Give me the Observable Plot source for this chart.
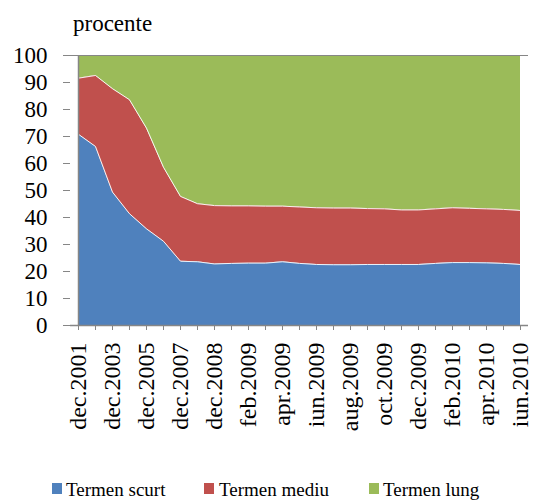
<!DOCTYPE html>
<html>
<head>
<meta charset="utf-8">
<script src="https://cdn.jsdelivr.net/npm/d3@7"></script>
<script src="https://cdn.jsdelivr.net/npm/@observablehq/plot@0.6"></script>
<style>
  html, body { margin: 0; padding: 0; background: #fff; overflow: hidden; }
  #wrap { position: relative; width: 535px; height: 502px; font-family: 'Liberation Serif', serif; color: #000; }
  #unit { position: absolute; left: 73px; top: 11px; font-size: 23px; line-height: 26px; }
  #chart { position: absolute; left: 0; top: 0; }
  .leg { position: absolute; top: 478px; font-size: 19px; line-height: 24px; white-space: nowrap; }
  .sw { position: absolute; top: 483px; width: 10px; height: 11px; }
</style>
</head>
<body>
<div id="wrap">
  <div id="chart"></div>
  <div id="unit">procente</div>
  <div id="legend"></div>
</div>
<script>
const categories = ["dec.2001","dec.2002","dec.2003","dec.2004","dec.2005","dec.2006","dec.2007","iun.2008","dec.2008","ian.2009","feb.2009","mar.2009","apr.2009","mai.2009","iun.2009","iul.2009","aug.2009","sep.2009","oct.2009","noi.2009","dec.2009","ian.2010","feb.2010","mar.2010","apr.2010","mai.2010","iun.2010"];
const seriesNames = ["Termen scurt", "Termen mediu", "Termen lung"];
const seriesColors = ["#4F81BD", "#C0504D", "#9BBB59"];
const termenScurt = [70.8, 66.3, 49.4, 41.4, 35.8, 31.2, 23.8, 23.6, 22.8, 23.0, 23.1, 23.1, 23.6, 23.0, 22.6, 22.5, 22.5, 22.6, 22.6, 22.6, 22.6, 23.0, 23.3, 23.3, 23.2, 23.0, 22.6];
const termenMediu = [20.8, 26.3, 38.3, 42.2, 37.3, 27.4, 24.0, 21.5, 21.6, 21.3, 21.2, 21.1, 20.6, 20.9, 21.0, 21.0, 21.0, 20.7, 20.6, 20.2, 20.2, 20.2, 20.3, 20.1, 20.0, 20.0, 20.0];
const termenLung = [8.4, 7.4, 12.3, 16.4, 26.9, 41.4, 52.2, 54.9, 55.6, 55.7, 55.7, 55.8, 55.8, 56.1, 56.4, 56.5, 56.5, 56.7, 56.8, 57.2, 57.2, 56.8, 56.4, 56.6, 56.8, 57.0, 57.4];
const yTicks = [0, 10, 20, 30, 40, 50, 60, 70, 80, 90, 100];

const seriesValues = [termenScurt, termenMediu, termenLung];
const data = [];
seriesNames.forEach((s, k) => categories.forEach((c, i) => data.push({cat: c, series: s, value: seriesValues[k][i]})));

// boundary lines (white separators) from cumulative sums
const boundary = [];
categories.forEach((c, i) => {
  boundary.push({cat: c, b: "b1", v: termenScurt[i]});
  boundary.push({cat: c, b: "b2", v: termenScurt[i] + termenMediu[i]});
});

const gray = "#868686";
const fontStack = "'Liberation Serif', serif";
const chart = Plot.plot({
  width: 535,
  height: 450,
  marginLeft: 70,
  marginRight: 7,
  marginTop: 55,
  marginBottom: 125,
  style: {fontFamily: fontStack, fontSize: "23px", color: "#000", background: "transparent", overflow: "visible"},
  x: {type: "point", domain: categories, padding: 0, range: [70, 528], label: null},
  y: {domain: [0, 100], range: [325, 55], label: null},
  color: {domain: seriesNames, range: seriesColors},
  marks: [
    Plot.areaY(data, Plot.stackY({x: "cat", y: "value", z: "series", fill: "series", order: seriesNames, curve: "linear"})),
    Plot.lineY(boundary, {x: "cat", y: "v", z: "b", stroke: "white", strokeWidth: 1, strokeOpacity: 0.9}),
    Plot.ruleY([100], {stroke: gray, strokeWidth: 1}),
    Plot.ruleY([0], {stroke: gray, strokeWidth: 1.5}),
    Plot.ruleX([categories[0]], {stroke: gray, strokeWidth: 1.5}),
    Plot.axisY({ticks: yTicks, tickSize: 7, tickPadding: 16, fontSize: 23, stroke: gray, fill: "#000", label: null}),
    Plot.axisX({ticks: categories, tickSize: 5, tickPadding: 12, tickRotate: -90, fontSize: 24, stroke: gray, fill: "#000", label: null,
      tickFormat: d => categories.indexOf(d) % 2 === 0 ? d : ""})
  ]
});
document.getElementById("chart").appendChild(chart);

const legend = document.getElementById("legend");
const swX = [52, 204, 369];
const txX = [66, 219, 383];
seriesNames.forEach((s, k) => {
  const sw = document.createElement("div");
  sw.className = "sw";
  sw.style.left = swX[k] + "px";
  sw.style.background = seriesColors[k];
  legend.appendChild(sw);
  const t = document.createElement("div");
  t.className = "leg";
  t.style.left = txX[k] + "px";
  t.textContent = s;
  legend.appendChild(t);
});
</script>
</body>
</html>
